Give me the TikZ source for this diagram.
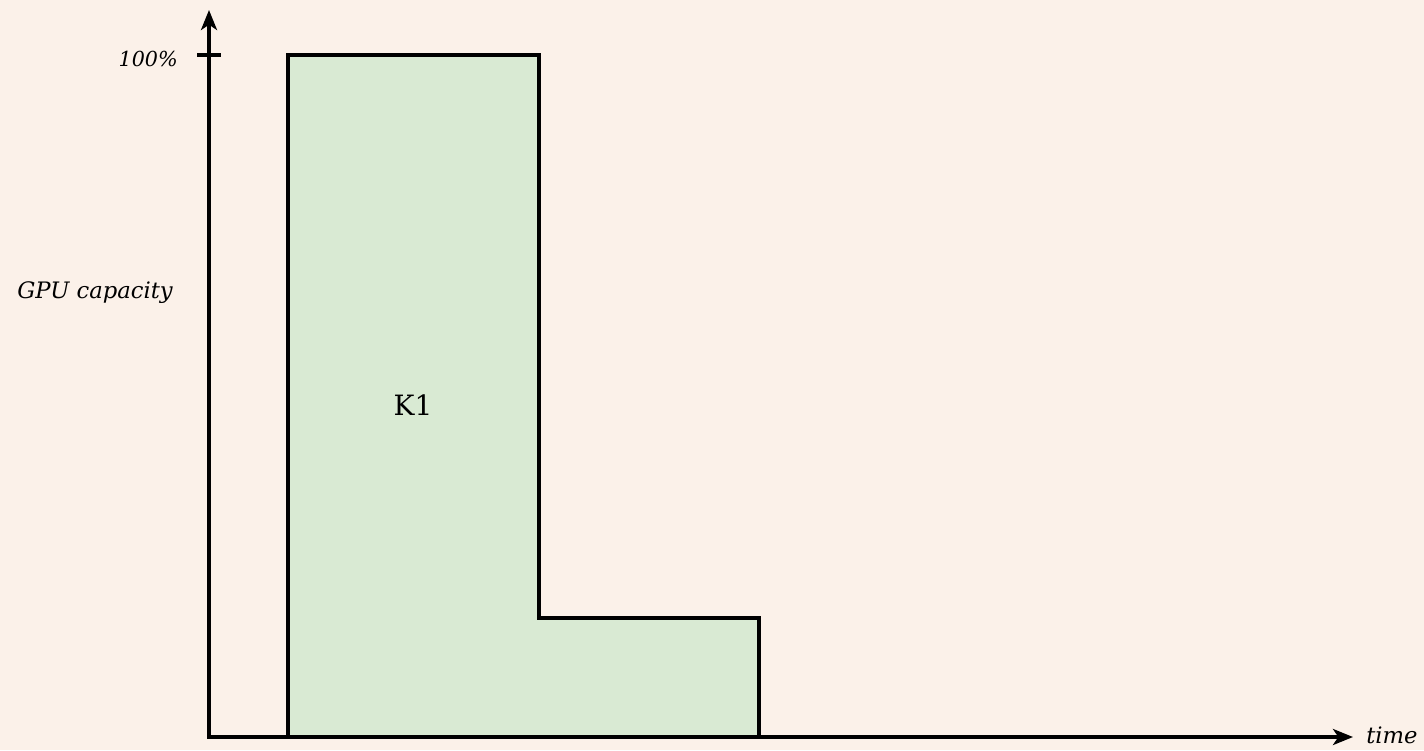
\documentclass[tikz,border=0pt]{standalone}
\usepackage{fontspec}
\setmainfont{DejaVu Serif}
\usetikzlibrary{arrows.meta}
\definecolor{bg}{HTML}{FBF1E9}
\definecolor{kfill}{HTML}{D9EAD3}
\begin{document}
\begin{tikzpicture}[x=0.75pt,y=-0.75pt,
  axis/.style={line width=2.6pt,-{Stealth[length=15pt,width=12pt,inset=4pt]}},
  kbox/.style={draw=black,fill=kfill,line width=2.6pt,line join=miter},
  lab/.style={font=\itshape\fontsize{17}{19}\selectfont,inner sep=0pt},
  ktext/.style={font=\fontsize{21}{23}\selectfont,inner sep=0pt}]
\fill[bg] (0,0) rectangle (1424,750);
\useasboundingbox (0,0) rectangle (1424,750);
\coordinate (o) at (209,737);
\coordinate (ytop) at (209,10);
\coordinate (xend) at (1353,737);
\coordinate (t1) at (197,55);
\coordinate (t2) at (221,55);
\draw[kbox] (288,737) -- (288,55) -- (539,55) -- (539,618) -- (759,618) -- (759,737) -- cycle;
\draw[axis] (o) -- (ytop);
\draw[axis] ([xshift=-1.5pt]o) -- (xend);
\draw[line width=2.6pt] (t1) -- (t2);
\node[lab,anchor=east,font=\itshape\fontsize{15.5}{18}\selectfont] (p100) at (178,59) {100\%};
\node[lab,anchor=east] (gpu) at (173,293) {GPU capacity};
\node[ktext] (k1) at (413,405) {K1};
\node[lab,anchor=west] (time) at (1366,735) {time};
\end{tikzpicture}
\end{document}
